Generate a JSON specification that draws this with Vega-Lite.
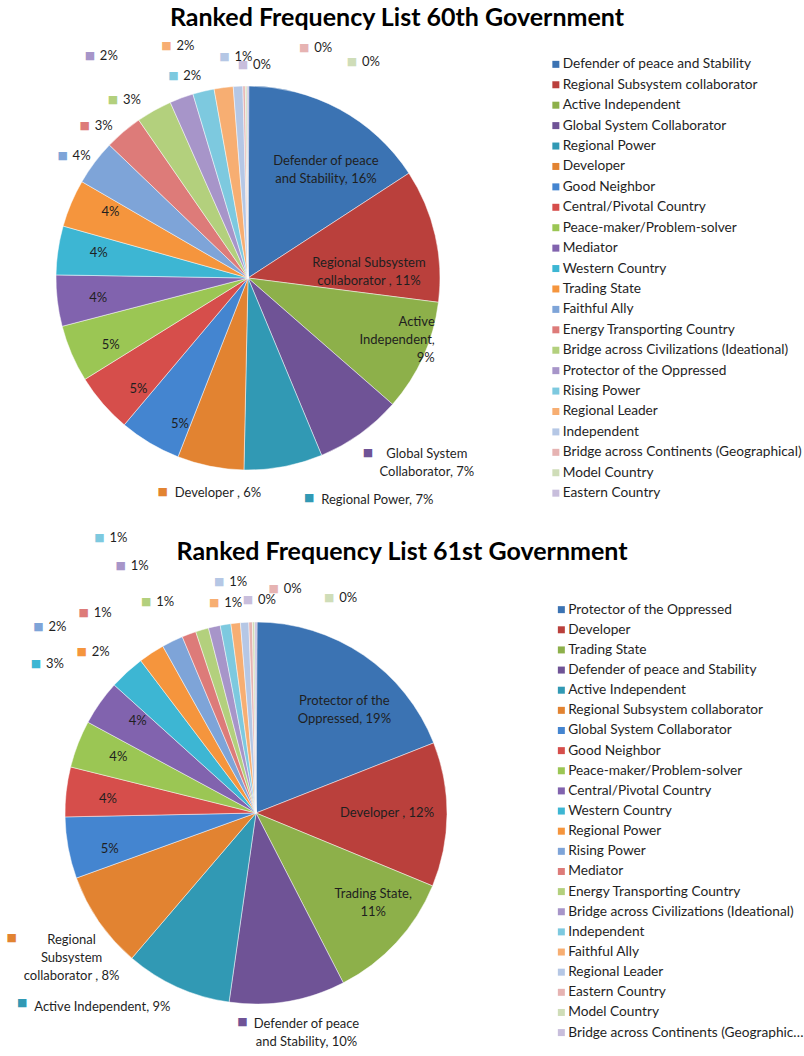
{
  "$schema": "https://vega.github.io/schema/vega-lite/v6.json",
  "padding": {"left": 0, "top": 6, "right": 0, "bottom": 0},
  "background": "#ffffff",
  "config": {
    "view": {"stroke": null},
    "title": {"font": "Lato", "fontSize": 25, "fontWeight": "bold", "color": "#000000", "anchor": "middle", "frame": "group", "baseline": "alphabetic"},
    "text": {"font": "Lato", "fontSize": 13, "color": "#1f1f1f", "baseline": "middle", "align": "left", "lineBreak": "\n", "lineHeight": 18},
    "legend": {"title": null, "orient": "none", "symbolType": "square", "symbolSize": 49, "symbolStrokeWidth": 0, "labelFont": "Lato", "labelFontSize": 13.7, "labelColor": "#1f1f1f", "labelOffset": 0, "padding": 0}
  },
  "datasets": {
    "g60": [
      {"rank": 1, "name": "Defender of peace and Stability", "value": 15.8, "label": "Defender of peace\nand Stability, 16%"},
      {"rank": 2, "name": "Regional Subsystem collaborator", "value": 11.2, "label": "Regional Subsystem\ncollaborator , 11%"},
      {"rank": 3, "name": "Active Independent", "value": 9.4, "label": "Active\nIndependent,\n9%"},
      {"rank": 4, "name": "Global System Collaborator", "value": 7.3, "label": "Global System\nCollaborator, 7%"},
      {"rank": 5, "name": "Regional Power", "value": 6.6, "label": "Regional Power, 7%"},
      {"rank": 6, "name": "Developer", "value": 5.6, "label": "Developer , 6%"},
      {"rank": 7, "name": "Good Neighbor", "value": 5.2, "label": "5%"},
      {"rank": 8, "name": "Central/Pivotal Country", "value": 5.0, "label": "5%"},
      {"rank": 9, "name": "Peace-maker/Problem-solver", "value": 4.8, "label": "5%"},
      {"rank": 10, "name": "Mediator", "value": 4.3, "label": "4%"},
      {"rank": 11, "name": "Western Country", "value": 4.1, "label": "4%"},
      {"rank": 12, "name": "Trading State", "value": 4.0, "label": "4%"},
      {"rank": 13, "name": "Faithful Ally", "value": 3.8, "label": "4%"},
      {"rank": 14, "name": "Energy Transporting Country", "value": 3.2, "label": "3%"},
      {"rank": 15, "name": "Bridge across Civilizations (Ideational)", "value": 3.0, "label": "3%"},
      {"rank": 16, "name": "Protector of the Oppressed", "value": 2.0, "label": "2%"},
      {"rank": 17, "name": "Rising Power", "value": 1.8, "label": "2%"},
      {"rank": 18, "name": "Regional Leader", "value": 1.6, "label": "2%"},
      {"rank": 19, "name": "Independent", "value": 0.8, "label": "1%"},
      {"rank": 20, "name": "Bridge across Continents (Geographical)", "value": 0.2, "label": "0%"},
      {"rank": 21, "name": "Model Country", "value": 0.15, "label": "0%"},
      {"rank": 22, "name": "Eastern Country", "value": 0.15, "label": "0%"}
    ],
    "g61": [
      {"rank": 1, "name": "Protector of the Oppressed", "value": 19.0, "label": "Protector of the\nOppressed, 19%"},
      {"rank": 2, "name": "Developer", "value": 12.2, "label": "Developer , 12%"},
      {"rank": 3, "name": "Trading State", "value": 11.2, "label": "Trading State,\n11%"},
      {"rank": 4, "name": "Defender of peace and Stability", "value": 9.8, "label": "Defender of peace\nand Stability, 10%"},
      {"rank": 5, "name": "Active Independent", "value": 9.0, "label": "Active Independent, 9%"},
      {"rank": 6, "name": "Regional Subsystem collaborator", "value": 8.2, "label": "Regional\nSubsystem\ncollaborator , 8%"},
      {"rank": 7, "name": "Global System Collaborator", "value": 5.2, "label": "5%"},
      {"rank": 8, "name": "Good Neighbor", "value": 4.2, "label": "4%"},
      {"rank": 9, "name": "Peace-maker/Problem-solver", "value": 4.0, "label": "4%"},
      {"rank": 10, "name": "Central/Pivotal Country", "value": 3.8, "label": "4%"},
      {"rank": 11, "name": "Western Country", "value": 3.0, "label": "3%"},
      {"rank": 12, "name": "Regional Power", "value": 2.2, "label": "2%"},
      {"rank": 13, "name": "Rising Power", "value": 1.8, "label": "2%"},
      {"rank": 14, "name": "Mediator", "value": 1.2, "label": "1%"},
      {"rank": 15, "name": "Energy Transporting Country", "value": 1.1, "label": "1%"},
      {"rank": 16, "name": "Bridge across Civilizations (Ideational)", "value": 1.0, "label": "1%"},
      {"rank": 17, "name": "Independent", "value": 0.9, "label": "1%"},
      {"rank": 18, "name": "Faithful Ally", "value": 0.8, "label": "1%"},
      {"rank": 19, "name": "Regional Leader", "value": 0.7, "label": "1%"},
      {"rank": 20, "name": "Eastern Country", "value": 0.3, "label": "0%"},
      {"rank": 21, "name": "Model Country", "value": 0.2, "label": "0%"},
      {"rank": 22, "name": "Bridge across Continents (Geographical)", "value": 0.2, "label": "0%"}
    ]
  },
  "bounds": "flush",
  "spacing": 57,
  "resolve": {"scale": {"color": "independent", "theta": "independent"}, "legend": {"color": "independent"}},
  "vconcat": [
    {
      "width": 496,
      "height": 476,
      "title": {"text": "Ranked Frequency List 60th Government", "dx": 149, "offset": 8.5},
      "data": {"name": "g60"},
      "transform": [
        {"stack": "value", "groupby": [], "sort": [{"field": "rank", "order": "ascending"}], "as": ["v0", "v1"]},
        {"calculate": "(datum.v0 + datum.v1) / 2", "as": "mid"}
      ],
      "layer": [
        {
          "mark": {"type": "arc", "radius": 192, "stroke": "#ffffff", "strokeWidth": 0.6, "strokeOpacity": 0.8},
          "encoding": {
            "theta": {"field": "v0", "type": "quantitative", "stack": null},
            "theta2": {"field": "v1"},
            "color": {
              "field": "name", "type": "nominal",
              "scale": {
                "domain": ["Defender of peace and Stability", "Regional Subsystem collaborator", "Active Independent", "Global System Collaborator", "Regional Power", "Developer", "Good Neighbor", "Central/Pivotal Country", "Peace-maker/Problem-solver", "Mediator", "Western Country", "Trading State", "Faithful Ally", "Energy Transporting Country", "Bridge across Civilizations (Ideational)", "Protector of the Oppressed", "Rising Power", "Regional Leader", "Independent", "Bridge across Continents (Geographical)", "Model Country", "Eastern Country"],
                "range": ["#3b73b3", "#ba403c", "#8db04a", "#6f5396", "#3199b4", "#e28331", "#4485d0", "#d64e4b", "#9bc654", "#8163ae", "#3db6d3", "#f5953d", "#7ea4d8", "#dd7b79", "#b3d07d", "#a795c9", "#7dc9df", "#f7ae72", "#b5c7e5", "#e6b3b2", "#cfddb8", "#c8bedc"]
              },
              "legend": {"legendX": 549, "legendY": 17.5, "rowPadding": 5.42, "labelLimit": 245}
            }
          }
        },
        {"transform": [{"filter": "datum.rank >= 7 && datum.rank <= 12"}], "mark": {"type": "text", "text": "■", "font": "DejaVu Sans", "fontSize": 11, "align": "center", "radius": 170}, "encoding": {"theta": {"field": "mid", "type": "quantitative", "stack": null}, "color": {"field": "name", "type": "nominal", "legend": null}}},
        {"transform": [{"filter": "datum.rank >= 7 && datum.rank <= 12"}], "mark": {"type": "text", "radius": 170, "dx": 10}, "encoding": {"theta": {"field": "mid", "type": "quantitative", "stack": null}, "text": {"field": "label"}}},

        {"transform": [{"filter": "datum.rank == 13"}], "mark": {"type": "text", "text": "■", "font": "DejaVu Sans", "fontSize": 11, "align": "center", "radius": 222, "dx": -8, "dy": 11}, "encoding": {"theta": {"field": "mid", "type": "quantitative", "stack": null}, "color": {"field": "name", "type": "nominal", "legend": null}}},
        {"transform": [{"filter": "datum.rank == 13"}], "mark": {"type": "text", "radius": 222, "dx": 2, "dy": 11}, "encoding": {"theta": {"field": "mid", "type": "quantitative", "stack": null}, "text": {"field": "label"}}},
        {"transform": [{"filter": "datum.rank == 14"}], "mark": {"type": "text", "text": "■", "font": "DejaVu Sans", "fontSize": 11, "align": "center", "radius": 221, "dx": -20, "dy": 16}, "encoding": {"theta": {"field": "mid", "type": "quantitative", "stack": null}, "color": {"field": "name", "type": "nominal", "legend": null}}},
        {"transform": [{"filter": "datum.rank == 14"}], "mark": {"type": "text", "radius": 221, "dx": -10, "dy": 16}, "encoding": {"theta": {"field": "mid", "type": "quantitative", "stack": null}, "text": {"field": "label"}}},
        {"transform": [{"filter": "datum.rank == 15"}], "mark": {"type": "text", "text": "■", "font": "DejaVu Sans", "fontSize": 11, "align": "center", "radius": 221, "dx": -27, "dy": 15}, "encoding": {"theta": {"field": "mid", "type": "quantitative", "stack": null}, "color": {"field": "name", "type": "nominal", "legend": null}}},
        {"transform": [{"filter": "datum.rank == 15"}], "mark": {"type": "text", "radius": 221, "dx": -17, "dy": 15}, "encoding": {"theta": {"field": "mid", "type": "quantitative", "stack": null}, "text": {"field": "label"}}},
        {"transform": [{"filter": "datum.rank == 16"}], "mark": {"type": "text", "text": "■", "font": "DejaVu Sans", "fontSize": 11, "align": "center", "radius": 240, "dx": -75, "dy": 3}, "encoding": {"theta": {"field": "mid", "type": "quantitative", "stack": null}, "color": {"field": "name", "type": "nominal", "legend": null}}},
        {"transform": [{"filter": "datum.rank == 16"}], "mark": {"type": "text", "radius": 240, "dx": -65, "dy": 3}, "encoding": {"theta": {"field": "mid", "type": "quantitative", "stack": null}, "text": {"field": "label"}}},
        {"transform": [{"filter": "datum.rank == 17"}], "mark": {"type": "text", "text": "■", "font": "DejaVu Sans", "fontSize": 11, "align": "center", "radius": 214, "dx": -25, "dy": 6}, "encoding": {"theta": {"field": "mid", "type": "quantitative", "stack": null}, "color": {"field": "name", "type": "nominal", "legend": null}}},
        {"transform": [{"filter": "datum.rank == 17"}], "mark": {"type": "text", "radius": 214, "dx": -15, "dy": 6}, "encoding": {"theta": {"field": "mid", "type": "quantitative", "stack": null}, "text": {"field": "label"}}},
        {"transform": [{"filter": "datum.rank == 18"}], "mark": {"type": "text", "text": "■", "font": "DejaVu Sans", "fontSize": 11, "align": "center", "radius": 241, "dx": -51, "dy": 7}, "encoding": {"theta": {"field": "mid", "type": "quantitative", "stack": null}, "color": {"field": "name", "type": "nominal", "legend": null}}},
        {"transform": [{"filter": "datum.rank == 18"}], "mark": {"type": "text", "radius": 241, "dx": -41, "dy": 7}, "encoding": {"theta": {"field": "mid", "type": "quantitative", "stack": null}, "text": {"field": "label"}}},
        {"transform": [{"filter": "datum.rank == 19"}], "mark": {"type": "text", "text": "■", "font": "DejaVu Sans", "fontSize": 11, "align": "center", "radius": 221, "dx": -12, "dy": 0}, "encoding": {"theta": {"field": "mid", "type": "quantitative", "stack": null}, "color": {"field": "name", "type": "nominal", "legend": null}}},
        {"transform": [{"filter": "datum.rank == 19"}], "mark": {"type": "text", "radius": 221, "dx": -2, "dy": 0}, "encoding": {"theta": {"field": "mid", "type": "quantitative", "stack": null}, "text": {"field": "label"}}},
        {"transform": [{"filter": "datum.rank == 20"}], "mark": {"type": "text", "text": "■", "font": "DejaVu Sans", "fontSize": 11, "align": "center", "radius": 230, "dx": 61, "dy": 0}, "encoding": {"theta": {"field": "mid", "type": "quantitative", "stack": null}, "color": {"field": "name", "type": "nominal", "legend": null}}},
        {"transform": [{"filter": "datum.rank == 20"}], "mark": {"type": "text", "radius": 230, "dx": 71, "dy": 0}, "encoding": {"theta": {"field": "mid", "type": "quantitative", "stack": null}, "text": {"field": "label"}}},
        {"transform": [{"filter": "datum.rank == 21"}], "mark": {"type": "text", "text": "■", "font": "DejaVu Sans", "fontSize": 11, "align": "center", "radius": 216, "dx": 106, "dy": 0}, "encoding": {"theta": {"field": "mid", "type": "quantitative", "stack": null}, "color": {"field": "name", "type": "nominal", "legend": null}}},
        {"transform": [{"filter": "datum.rank == 21"}], "mark": {"type": "text", "radius": 216, "dx": 116, "dy": 0}, "encoding": {"theta": {"field": "mid", "type": "quantitative", "stack": null}, "text": {"field": "label"}}},
        {"transform": [{"filter": "datum.rank == 22"}], "mark": {"type": "text", "text": "■", "font": "DejaVu Sans", "fontSize": 11, "align": "center", "radius": 214, "dx": -5, "dy": 1}, "encoding": {"theta": {"field": "mid", "type": "quantitative", "stack": null}, "color": {"field": "name", "type": "nominal", "legend": null}}},
        {"transform": [{"filter": "datum.rank == 22"}], "mark": {"type": "text", "radius": 214, "dx": 5, "dy": 1}, "encoding": {"theta": {"field": "mid", "type": "quantitative", "stack": null}, "text": {"field": "label"}}},

        {"transform": [{"filter": "datum.rank == 1"}], "mark": {"type": "text", "text": "■", "font": "DejaVu Sans", "fontSize": 11, "align": "center", "radius": 132, "dx": -49, "dy": -3}, "encoding": {"theta": {"field": "mid", "type": "quantitative", "stack": null}, "color": {"field": "name", "type": "nominal", "legend": null}}},
        {"transform": [{"filter": "datum.rank == 1"}], "mark": {"type": "text", "align": "center", "radius": 132, "dx": 15, "dy": -1}, "encoding": {"theta": {"field": "mid", "type": "quantitative", "stack": null}, "text": {"field": "label"}}},
        {"transform": [{"filter": "datum.rank == 2"}], "mark": {"type": "text", "text": "■", "font": "DejaVu Sans", "fontSize": 11, "align": "center", "radius": 120, "dx": -65, "dy": 9}, "encoding": {"theta": {"field": "mid", "type": "quantitative", "stack": null}, "color": {"field": "name", "type": "nominal", "legend": null}}},
        {"transform": [{"filter": "datum.rank == 2"}], "mark": {"type": "text", "align": "center", "radius": 120, "dx": 4, "dy": 11.5}, "encoding": {"theta": {"field": "mid", "type": "quantitative", "stack": null}, "text": {"field": "label"}}},
        {"transform": [{"filter": "datum.rank == 3"}], "mark": {"type": "text", "text": "■", "font": "DejaVu Sans", "fontSize": 11, "align": "center", "radius": 196, "dx": -80, "dy": -39}, "encoding": {"theta": {"field": "mid", "type": "quantitative", "stack": null}, "color": {"field": "name", "type": "nominal", "legend": null}}},
        {"transform": [{"filter": "datum.rank == 3"}], "mark": {"type": "text", "align": "right", "radius": 196, "dx": 8, "dy": -36}, "encoding": {"theta": {"field": "mid", "type": "quantitative", "stack": null}, "text": {"field": "label"}}},
        {"transform": [{"filter": "datum.rank == 4"}], "mark": {"type": "text", "text": "■", "font": "DejaVu Sans", "fontSize": 11, "align": "center", "radius": 255, "dx": -29, "dy": -32}, "encoding": {"theta": {"field": "mid", "type": "quantitative", "stack": null}, "color": {"field": "name", "type": "nominal", "legend": null}}},
        {"transform": [{"filter": "datum.rank == 4"}], "mark": {"type": "text", "align": "center", "radius": 255, "dx": 30, "dy": -31}, "encoding": {"theta": {"field": "mid", "type": "quantitative", "stack": null}, "text": {"field": "label"}}},
        {"transform": [{"filter": "datum.rank == 5"}], "mark": {"type": "text", "text": "■", "font": "DejaVu Sans", "fontSize": 11, "align": "center", "radius": 228, "dx": 19, "dy": -4}, "encoding": {"theta": {"field": "mid", "type": "quantitative", "stack": null}, "color": {"field": "name", "type": "nominal", "legend": null}}},
        {"transform": [{"filter": "datum.rank == 5"}], "mark": {"type": "text", "radius": 228, "dx": 31, "dy": -2}, "encoding": {"theta": {"field": "mid", "type": "quantitative", "stack": null}, "text": {"field": "label"}}},
        {"transform": [{"filter": "datum.rank == 6"}], "mark": {"type": "text", "text": "■", "font": "DejaVu Sans", "fontSize": 11, "align": "center", "radius": 226, "dx": -41, "dy": -8}, "encoding": {"theta": {"field": "mid", "type": "quantitative", "stack": null}, "color": {"field": "name", "type": "nominal", "legend": null}}},
        {"transform": [{"filter": "datum.rank == 6"}], "mark": {"type": "text", "radius": 226, "dx": -29, "dy": -7}, "encoding": {"theta": {"field": "mid", "type": "quantitative", "stack": null}, "text": {"field": "label"}}}
      ]
    },
    {
      "width": 512,
      "height": 480,
      "title": {"text": "Ranked Frequency List 61st Government", "dx": 146, "offset": -33.5},
      "data": {"name": "g61"},
      "transform": [
        {"stack": "value", "groupby": [], "sort": [{"field": "rank", "order": "ascending"}], "as": ["v0", "v1"]},
        {"calculate": "(datum.v0 + datum.v1) / 2", "as": "mid"}
      ],
      "layer": [
        {
          "mark": {"type": "arc", "radius": 191, "stroke": "#ffffff", "strokeWidth": 0.6, "strokeOpacity": 0.8},
          "encoding": {
            "theta": {"field": "v0", "type": "quantitative", "stack": null},
            "theta2": {"field": "v1"},
            "color": {
              "field": "name", "type": "nominal",
              "scale": {
                "domain": ["Protector of the Oppressed", "Developer", "Trading State", "Defender of peace and Stability", "Active Independent", "Regional Subsystem collaborator", "Global System Collaborator", "Good Neighbor", "Peace-maker/Problem-solver", "Central/Pivotal Country", "Western Country", "Regional Power", "Rising Power", "Mediator", "Energy Transporting Country", "Bridge across Civilizations (Ideational)", "Independent", "Faithful Ally", "Regional Leader", "Eastern Country", "Model Country", "Bridge across Continents (Geographical)"],
                "range": ["#3b73b3", "#ba403c", "#8db04a", "#6f5396", "#3199b4", "#e28331", "#4485d0", "#d64e4b", "#9bc654", "#8163ae", "#3db6d3", "#f5953d", "#7ea4d8", "#dd7b79", "#b3d07d", "#a795c9", "#7dc9df", "#f7ae72", "#b5c7e5", "#e6b3b2", "#cfddb8", "#c8bedc"]
              },
              "legend": {"legendX": 554.5, "legendY": 29.8, "rowPadding": 5.14, "labelLimit": 237}
            }
          }
        },
        {"transform": [{"filter": "datum.rank >= 7 && datum.rank <= 10"}], "mark": {"type": "text", "text": "■", "font": "DejaVu Sans", "fontSize": 11, "align": "center", "radius": 168, "dy": 5}, "encoding": {"theta": {"field": "mid", "type": "quantitative", "stack": null}, "color": {"field": "name", "type": "nominal", "legend": null}}},
        {"transform": [{"filter": "datum.rank >= 7 && datum.rank <= 10"}], "mark": {"type": "text", "radius": 168, "dx": 10, "dy": 5}, "encoding": {"theta": {"field": "mid", "type": "quantitative", "stack": null}, "text": {"field": "label"}}},

        {"transform": [{"filter": "datum.rank == 11"}], "mark": {"type": "text", "text": "■", "font": "DejaVu Sans", "fontSize": 11, "align": "center", "radius": 259, "dx": -45, "dy": 42}, "encoding": {"theta": {"field": "mid", "type": "quantitative", "stack": null}, "color": {"field": "name", "type": "nominal", "legend": null}}},
        {"transform": [{"filter": "datum.rank == 11"}], "mark": {"type": "text", "radius": 259, "dx": -35, "dy": 42}, "encoding": {"theta": {"field": "mid", "type": "quantitative", "stack": null}, "text": {"field": "label"}}},
        {"transform": [{"filter": "datum.rank == 12"}], "mark": {"type": "text", "text": "■", "font": "DejaVu Sans", "fontSize": 11, "align": "center", "radius": 231, "dx": -48, "dy": 32}, "encoding": {"theta": {"field": "mid", "type": "quantitative", "stack": null}, "color": {"field": "name", "type": "nominal", "legend": null}}},
        {"transform": [{"filter": "datum.rank == 12"}], "mark": {"type": "text", "radius": 231, "dx": -38, "dy": 32}, "encoding": {"theta": {"field": "mid", "type": "quantitative", "stack": null}, "text": {"field": "label"}}},
        {"transform": [{"filter": "datum.rank == 13"}], "mark": {"type": "text", "text": "■", "font": "DejaVu Sans", "fontSize": 11, "align": "center", "radius": 264, "dx": -102, "dy": 51}, "encoding": {"theta": {"field": "mid", "type": "quantitative", "stack": null}, "color": {"field": "name", "type": "nominal", "legend": null}}},
        {"transform": [{"filter": "datum.rank == 13"}], "mark": {"type": "text", "radius": 264, "dx": -92, "dy": 51}, "encoding": {"theta": {"field": "mid", "type": "quantitative", "stack": null}, "text": {"field": "label"}}},
        {"transform": [{"filter": "datum.rank == 14"}], "mark": {"type": "text", "text": "■", "font": "DejaVu Sans", "fontSize": 11, "align": "center", "radius": 249, "dx": -85, "dy": 33}, "encoding": {"theta": {"field": "mid", "type": "quantitative", "stack": null}, "color": {"field": "name", "type": "nominal", "legend": null}}},
        {"transform": [{"filter": "datum.rank == 14"}], "mark": {"type": "text", "radius": 249, "dx": -75, "dy": 33}, "encoding": {"theta": {"field": "mid", "type": "quantitative", "stack": null}, "text": {"field": "label"}}},
        {"transform": [{"filter": "datum.rank == 15"}], "mark": {"type": "text", "text": "■", "font": "DejaVu Sans", "fontSize": 11, "align": "center", "radius": 233, "dx": -44, "dy": 13}, "encoding": {"theta": {"field": "mid", "type": "quantitative", "stack": null}, "color": {"field": "name", "type": "nominal", "legend": null}}},
        {"transform": [{"filter": "datum.rank == 15"}], "mark": {"type": "text", "radius": 233, "dx": -34, "dy": 13}, "encoding": {"theta": {"field": "mid", "type": "quantitative", "stack": null}, "text": {"field": "label"}}},
        {"transform": [{"filter": "datum.rank == 16"}], "mark": {"type": "text", "text": "■", "font": "DejaVu Sans", "fontSize": 11, "align": "center", "radius": 271, "dx": -76, "dy": 17}, "encoding": {"theta": {"field": "mid", "type": "quantitative", "stack": null}, "color": {"field": "name", "type": "nominal", "legend": null}}},
        {"transform": [{"filter": "datum.rank == 16"}], "mark": {"type": "text", "radius": 271, "dx": -66, "dy": 17}, "encoding": {"theta": {"field": "mid", "type": "quantitative", "stack": null}, "text": {"field": "label"}}},
        {"transform": [{"filter": "datum.rank == 17"}], "mark": {"type": "text", "text": "■", "font": "DejaVu Sans", "fontSize": 11, "align": "center", "radius": 297, "dx": -109, "dy": 18}, "encoding": {"theta": {"field": "mid", "type": "quantitative", "stack": null}, "color": {"field": "name", "type": "nominal", "legend": null}}},
        {"transform": [{"filter": "datum.rank == 17"}], "mark": {"type": "text", "radius": 297, "dx": -99, "dy": 18}, "encoding": {"theta": {"field": "mid", "type": "quantitative", "stack": null}, "text": {"field": "label"}}},
        {"transform": [{"filter": "datum.rank == 18"}], "mark": {"type": "text", "text": "■", "font": "DejaVu Sans", "fontSize": 11, "align": "center", "radius": 214, "dx": -19, "dy": 3}, "encoding": {"theta": {"field": "mid", "type": "quantitative", "stack": null}, "color": {"field": "name", "type": "nominal", "legend": null}}},
        {"transform": [{"filter": "datum.rank == 18"}], "mark": {"type": "text", "radius": 214, "dx": -9, "dy": 3}, "encoding": {"theta": {"field": "mid", "type": "quantitative", "stack": null}, "text": {"field": "label"}}},
        {"transform": [{"filter": "datum.rank == 19"}], "mark": {"type": "text", "text": "■", "font": "DejaVu Sans", "fontSize": 11, "align": "center", "radius": 232, "dx": -23, "dy": 1}, "encoding": {"theta": {"field": "mid", "type": "quantitative", "stack": null}, "color": {"field": "name", "type": "nominal", "legend": null}}},
        {"transform": [{"filter": "datum.rank == 19"}], "mark": {"type": "text", "radius": 232, "dx": -13, "dy": 1}, "encoding": {"theta": {"field": "mid", "type": "quantitative", "stack": null}, "text": {"field": "label"}}},
        {"transform": [{"filter": "datum.rank == 20"}], "mark": {"type": "text", "text": "■", "font": "DejaVu Sans", "fontSize": 11, "align": "center", "radius": 224, "dx": 24, "dy": 0}, "encoding": {"theta": {"field": "mid", "type": "quantitative", "stack": null}, "color": {"field": "name", "type": "nominal", "legend": null}}},
        {"transform": [{"filter": "datum.rank == 20"}], "mark": {"type": "text", "radius": 224, "dx": 34, "dy": 0}, "encoding": {"theta": {"field": "mid", "type": "quantitative", "stack": null}, "text": {"field": "label"}}},
        {"transform": [{"filter": "datum.rank == 21"}], "mark": {"type": "text", "text": "■", "font": "DejaVu Sans", "fontSize": 11, "align": "center", "radius": 215, "dx": 76, "dy": 0}, "encoding": {"theta": {"field": "mid", "type": "quantitative", "stack": null}, "color": {"field": "name", "type": "nominal", "legend": null}}},
        {"transform": [{"filter": "datum.rank == 21"}], "mark": {"type": "text", "radius": 215, "dx": 86, "dy": 0}, "encoding": {"theta": {"field": "mid", "type": "quantitative", "stack": null}, "text": {"field": "label"}}},
        {"transform": [{"filter": "datum.rank == 22"}], "mark": {"type": "text", "text": "■", "font": "DejaVu Sans", "fontSize": 11, "align": "center", "radius": 213, "dx": -8, "dy": 0}, "encoding": {"theta": {"field": "mid", "type": "quantitative", "stack": null}, "color": {"field": "name", "type": "nominal", "legend": null}}},
        {"transform": [{"filter": "datum.rank == 22"}], "mark": {"type": "text", "radius": 213, "dx": 2, "dy": 0}, "encoding": {"theta": {"field": "mid", "type": "quantitative", "stack": null}, "text": {"field": "label"}}},

        {"transform": [{"filter": "datum.rank == 1"}], "mark": {"type": "text", "text": "■", "font": "DejaVu Sans", "fontSize": 11, "align": "center", "radius": 134, "dx": -45, "dy": -1}, "encoding": {"theta": {"field": "mid", "type": "quantitative", "stack": null}, "color": {"field": "name", "type": "nominal", "legend": null}}},
        {"transform": [{"filter": "datum.rank == 1"}], "mark": {"type": "text", "align": "center", "radius": 134, "dx": 13, "dy": -1}, "encoding": {"theta": {"field": "mid", "type": "quantitative", "stack": null}, "text": {"field": "label"}}},
        {"transform": [{"filter": "datum.rank == 2"}], "mark": {"type": "text", "text": "■", "font": "DejaVu Sans", "fontSize": 11, "align": "center", "radius": 80, "dx": -7, "dy": -2}, "encoding": {"theta": {"field": "mid", "type": "quantitative", "stack": null}, "color": {"field": "name", "type": "nominal", "legend": null}}},
        {"transform": [{"filter": "datum.rank == 2"}], "mark": {"type": "text", "radius": 80, "dx": 4, "dy": -1}, "encoding": {"theta": {"field": "mid", "type": "quantitative", "stack": null}, "text": {"field": "label"}}},
        {"transform": [{"filter": "datum.rank == 3"}], "mark": {"type": "text", "text": "■", "font": "DejaVu Sans", "fontSize": 11, "align": "center", "radius": 147, "dx": -42, "dy": -20}, "encoding": {"theta": {"field": "mid", "type": "quantitative", "stack": null}, "color": {"field": "name", "type": "nominal", "legend": null}}},
        {"transform": [{"filter": "datum.rank == 3"}], "mark": {"type": "text", "align": "center", "radius": 147, "dx": 9, "dy": -19}, "encoding": {"theta": {"field": "mid", "type": "quantitative", "stack": null}, "text": {"field": "label"}}},
        {"transform": [{"filter": "datum.rank == 4"}], "mark": {"type": "text", "text": "■", "font": "DejaVu Sans", "fontSize": 11, "align": "center", "radius": 226, "dx": -51, "dy": -14}, "encoding": {"theta": {"field": "mid", "type": "quantitative", "stack": null}, "color": {"field": "name", "type": "nominal", "legend": null}}},
        {"transform": [{"filter": "datum.rank == 4"}], "mark": {"type": "text", "align": "center", "radius": 226, "dx": 13, "dy": -12}, "encoding": {"theta": {"field": "mid", "type": "quantitative", "stack": null}, "text": {"field": "label"}}},
        {"transform": [{"filter": "datum.rank == 5"}], "mark": {"type": "text", "text": "■", "font": "DejaVu Sans", "fontSize": 11, "align": "center", "radius": 230, "dx": -139, "dy": -20}, "encoding": {"theta": {"field": "mid", "type": "quantitative", "stack": null}, "color": {"field": "name", "type": "nominal", "legend": null}}},
        {"transform": [{"filter": "datum.rank == 5"}], "mark": {"type": "text", "radius": 230, "dx": -127, "dy": -16}, "encoding": {"theta": {"field": "mid", "type": "quantitative", "stack": null}, "text": {"field": "label"}}},
        {"transform": [{"filter": "datum.rank == 6"}], "mark": {"type": "text", "text": "■", "font": "DejaVu Sans", "fontSize": 11, "align": "center", "radius": 234, "dx": -52, "dy": -8}, "encoding": {"theta": {"field": "mid", "type": "quantitative", "stack": null}, "color": {"field": "name", "type": "nominal", "legend": null}}},
        {"transform": [{"filter": "datum.rank == 6"}], "mark": {"type": "text", "align": "center", "radius": 234, "dx": 8, "dy": -6}, "encoding": {"theta": {"field": "mid", "type": "quantitative", "stack": null}, "text": {"field": "label"}}}
      ]
    }
  ]
}
